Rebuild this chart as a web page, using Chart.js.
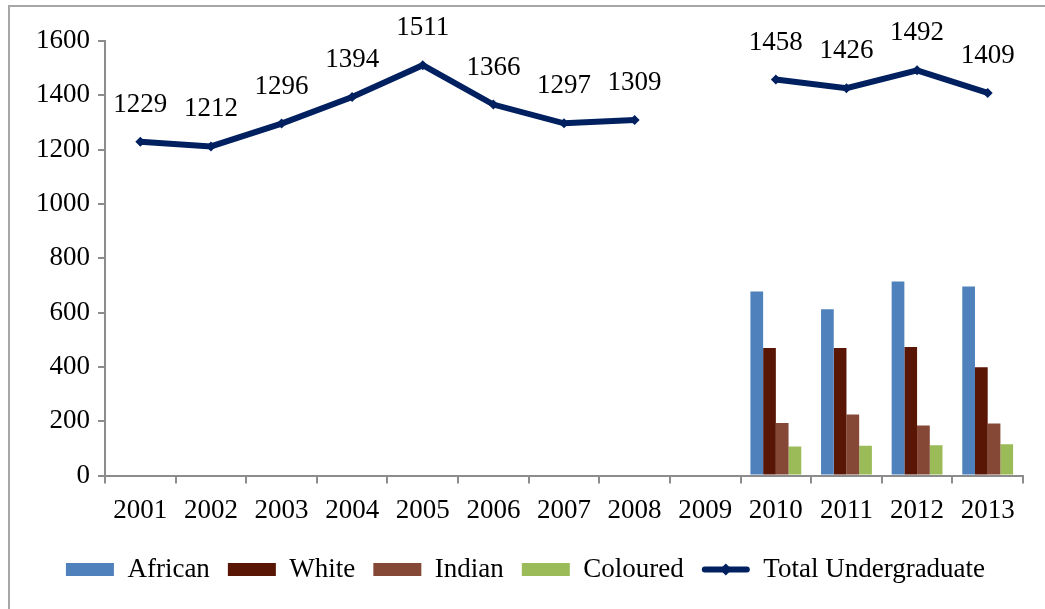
<!DOCTYPE html>
<html lang="en">
<head>
<meta charset="UTF-8">
<title>Undergraduate enrolment</title>
<style>
  body { margin: 0; background: #fff; }
  #frame { position: absolute; left: 8px; top: 5px; width: 1037px; height: 604px;
           border-left: 2px solid #a6a6a6; border-top: 2px solid #a6a6a6; }
</style>
</head>
<body>
<div id="frame"><canvas id="myChart" width="1035" height="602"></canvas></div>

<script src="https://cdn.jsdelivr.net/npm/chart.js"></script>
<script>
const years = ['2001','2002','2003','2004','2005','2006','2007','2008','2009','2010','2011','2012','2013']
const african  = [null,null,null,null,null,null,null,null,null,678,612,715,696]
const white    = [null,null,null,null,null,null,null,null,null,470,470,473,399]
const indian   = [null,null,null,null,null,null,null,null,null,194,225,184,192]
const coloured = [null,null,null,null,null,null,null,null,null,107,110,112,115]
const totalUndergrad = [1229,1212,1296,1394,1511,1366,1297,1309,null,1458,1426,1492,1409]

const font = '"Liberation Serif", "Times New Roman", serif'
const navy = '#002060'
Chart.defaults.font.family = font
Chart.defaults.font.size = 27
Chart.defaults.color = '#000'

// labels above the line points + line symbol in the legend
const extras = {
  id: 'extras',
  afterDatasetsDraw(chart) {
    const ctx = chart.ctx
    const meta = chart.getDatasetMeta(4)
    ctx.save()
    ctx.font = '27px ' + font
    ctx.fillStyle = '#000'
    ctx.textAlign = 'center'
    ctx.textBaseline = 'middle'
    meta.data.forEach((pt, i) => {
      const v = totalUndergrad[i]
      if (v == null) return
      ctx.fillText(v, pt.x, pt.y - 37)
    })
    ctx.restore()
  },
  afterDraw(chart) {
    const hb = chart.legend.legendHitBoxes[4]
    if (!hb) return
    const ctx = chart.ctx
    const y = hb.top + hb.height / 2
    ctx.save()
    ctx.strokeStyle = navy
    ctx.lineWidth = 6
    ctx.lineCap = 'round'
    ctx.beginPath()
    ctx.moveTo(hb.left + 3, y)
    ctx.lineTo(hb.left + 45, y)
    ctx.stroke()
    ctx.fillStyle = navy
    ctx.beginPath()
    const cx = hb.left + 24
    ctx.moveTo(cx, y - 6); ctx.lineTo(cx + 6, y); ctx.lineTo(cx, y + 6); ctx.lineTo(cx - 6, y)
    ctx.fill()
    ctx.restore()
  }
}

const bar = (label, data, color) => ({
  type: 'bar', label, data, backgroundColor: color,
  barPercentage: 1, categoryPercentage: 0.72, order: 2
})

new Chart(document.querySelector('#myChart'), {
  data: {
    labels: years,
    datasets: [
      bar('African', african, '#4f81bd'),
      bar('White', white, '#5a1605'),
      bar('Indian', indian, '#864836'),
      bar('Coloured', coloured, '#9bbb59'),
      {
        type: 'line', label: 'Total Undergraduate', data: totalUndergrad,
        borderColor: navy, backgroundColor: navy, borderWidth: 6,
        pointStyle: 'rectRot', pointRadius: 5, pointBackgroundColor: navy,
        pointBorderWidth: 0, spanGaps: false, tension: 0, order: 1
      }
    ]
  },
  options: {
    responsive: false,
    animation: false,
    layout: { padding: { left: 18, right: 22, top: 34, bottom: 16 } },
    plugins: {
      legend: {
        position: 'bottom',
        labels: {
          boxWidth: 48, boxHeight: 13, padding: 18,
          sort: (a, b) => a.datasetIndex - b.datasetIndex,
          generateLabels(chart) {
            const items = Chart.defaults.plugins.legend.labels.generateLabels(chart)
            items.forEach(it => {
              if (it.datasetIndex === 4) {
                it.fillStyle = 'rgba(0,0,0,0)'
                it.strokeStyle = 'rgba(0,0,0,0)'
                it.lineWidth = 0
              }
            })
            return items
          }
        }
      },
      tooltip: { enabled: false }
    },
    scales: {
      x: {
        offset: true,
        grid: { offset: true, drawOnChartArea: false, tickLength: 8, color: '#8c8c8c', lineWidth: 2 },
        border: { color: '#8c8c8c', width: 2 },
        ticks: { padding: 11, maxRotation: 0 }
      },
      y: {
        min: 0, max: 1600,
        ticks: { stepSize: 200, padding: 8, callback: v => String(v) },
        grid: { drawOnChartArea: false, tickLength: 7, color: '#8c8c8c', lineWidth: 2 },
        border: { color: '#8c8c8c', width: 2 }
      }
    }
  },
  plugins: [extras]
})
</script>
</body>
</html>
